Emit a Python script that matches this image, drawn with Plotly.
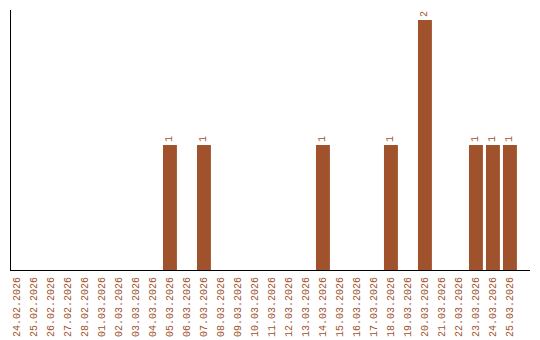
import plotly.graph_objects as go

dates = ["24.02.2026", "25.02.2026", "26.02.2026", "27.02.2026", "28.02.2026",
         "01.03.2026", "02.03.2026", "03.03.2026", "04.03.2026", "05.03.2026",
         "06.03.2026", "07.03.2026", "08.03.2026", "09.03.2026", "10.03.2026",
         "11.03.2026", "12.03.2026", "13.03.2026", "14.03.2026", "15.03.2026",
         "16.03.2026", "17.03.2026", "18.03.2026", "19.03.2026", "20.03.2026",
         "21.03.2026", "22.03.2026", "23.03.2026", "24.03.2026", "25.03.2026"]
counts = [0, 0, 0, 0, 0, 0, 0, 0, 0, 1,
          0, 1, 0, 0, 0, 0, 0, 0, 1, 0,
          0, 0, 1, 0, 2, 0, 0, 1, 1, 1]

color = "#A0522D"
labels = [str(v) if v > 0 else "" for v in counts]

fig = go.Figure(go.Bar(
    x=dates, y=counts, marker_color=color, marker_line_width=0,
    text=labels, textposition="outside", textangle=-90,
    textfont=dict(family="Liberation Mono", size=10, color=color),
    cliponaxis=False,
))

fig.update_layout(
    width=540, height=340,
    margin=dict(l=11, r=10, t=10, b=70),
    paper_bgcolor="white", plot_bgcolor="white",
    bargap=0.18, showlegend=False,
    xaxis=dict(type="category", range=[-0.35, 30.18], showline=True,
               linecolor="black", linewidth=1, ticks="", showgrid=False,
               tickangle=-90, automargin=False, ticklabelstandoff=2,
               tickfont=dict(family="Liberation Mono", size=10, color=color)),
    yaxis=dict(range=[0, 2.08], showline=True, linecolor="black", linewidth=1,
               showticklabels=False, ticks="", showgrid=False, zeroline=False,
               automargin=False),
)

fig.write_html("out.html")
